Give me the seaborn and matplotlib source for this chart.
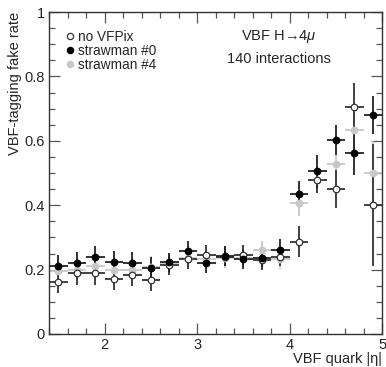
import numpy as np
import pandas as pd
import matplotlib
matplotlib.use("Agg")
import matplotlib.pyplot as plt
import seaborn as sns
from matplotlib.ticker import MultipleLocator, FixedLocator

# ---- data ----
eta = [1.5, 1.7, 1.9, 2.1, 2.3, 2.5, 2.7, 2.9, 3.1, 3.3, 3.5, 3.7, 3.9, 4.1, 4.3, 4.5, 4.7, 4.9]
eta_halfwidth = 0.1

novfpix = [0.162, 0.188, 0.188, 0.171, 0.183, 0.168, 0.214, 0.233, 0.245, 0.240, 0.245, 0.230, 0.240, 0.287, 0.478, 0.450, 0.706, 0.400]
novfpix_err = [0.035, 0.035, 0.035, 0.033, 0.033, 0.033, 0.030, 0.030, 0.030, 0.030, 0.030, 0.030, 0.030, 0.048, 0.040, 0.060, 0.075, 0.190]

straw0 = [0.212, 0.221, 0.240, 0.225, 0.221, 0.206, 0.223, 0.259, 0.219, 0.242, 0.232, 0.237, 0.261, 0.436, 0.505, 0.602, 0.561, 0.680]
straw0_err = [0.033, 0.033, 0.033, 0.033, 0.033, 0.033, 0.030, 0.030, 0.030, 0.030, 0.030, 0.030, 0.035, 0.040, 0.050, 0.047, 0.067, 0.060]

straw4 = [0.195, 0.200, 0.210, 0.200, 0.200, 0.208, 0.220, 0.236, 0.232, 0.235, 0.235, 0.260, 0.233, 0.408, 0.478, 0.528, 0.634, 0.499]
straw4_err = [0.033, 0.033, 0.033, 0.033, 0.033, 0.033, 0.030, 0.030, 0.030, 0.030, 0.030, 0.030, 0.030, 0.040, 0.040, 0.050, 0.070, 0.100]

labels = ["no VFPix", "strawman #0", "strawman #4"]

# ---- style ----
sns.set_style("ticks")
plt.rcParams["font.family"] = ["Liberation Sans", "DejaVu Sans"]
plt.rcParams["mathtext.fontset"] = "custom"
plt.rcParams["mathtext.it"] = "Liberation Sans:italic"

fig = plt.figure(figsize=(3.86, 3.67), dpi=100)
ax = fig.add_axes([0.127, 0.090, 0.863, 0.877])

series = [
    (labels[2], straw4, straw4_err, "#c8c8c8", "#c8c8c8", "#c8c8c8"),
    (labels[0], novfpix, novfpix_err, "white", "#333333", "#333333"),
    (labels[1], straw0, straw0_err, "black", "black", "#222222"),
]
order_z = {labels[2]: 2, labels[0]: 3, labels[1]: 4}

for name, vals, errs, fc, ec, lc in series:
    ax.errorbar(eta, vals, yerr=errs, xerr=eta_halfwidth, fmt="none",
                ecolor=lc, elinewidth=1.3, capsize=0, zorder=order_z[name])

for name, vals, errs, fc, ec, lc in series:
    df = pd.DataFrame({"eta": eta, "rate": vals})
    sns.scatterplot(data=df, x="eta", y="rate", ax=ax, marker="o", s=22,
                    color=fc, edgecolor=ec, linewidth=0.9, zorder=order_z[name] + 5)

ax.set_xlim(1.4, 5.0)
ax.set_ylim(0, 1.0)
ax.xaxis.set_major_locator(FixedLocator([2, 3, 4, 5]))
ax.xaxis.set_minor_locator(MultipleLocator(0.2))
ax.yaxis.set_major_locator(FixedLocator([0, 0.2, 0.4, 0.6, 0.8, 1.0]))
ax.yaxis.set_minor_locator(MultipleLocator(0.05))
ax.set_yticklabels(["0", "0.2", "0.4", "0.6", "0.8", "1"])
ax.set_xticklabels(["2", "3", "4", "5"])
ax.tick_params(which="both", direction="in", top=True, right=True,
               labelsize=10.5, color="#555555", width=0.9)
ax.tick_params(which="major", length=8, pad=3)
ax.tick_params(which="minor", length=4)
for sp in ax.spines.values():
    sp.set_visible(True)
    sp.set_color("#333333")
    sp.set_linewidth(1.0)

ax.set_xlabel("VBF quark |η|", fontsize=10.5, loc="right", labelpad=0)
ax.set_ylabel("VBF-tagging fake rate", fontsize=10.5, loc="top", labelpad=2)

# legend
handles = [
    plt.Line2D([], [], marker="o", ls="none", mfc="white", mec="#333333", ms=4.5, mew=0.9),
    plt.Line2D([], [], marker="o", ls="none", mfc="black", mec="black", ms=4.5, mew=0.9),
    plt.Line2D([], [], marker="o", ls="none", mfc="#c8c8c8", mec="#c8c8c8", ms=4.5, mew=0.9),
]
ax.legend(handles, labels, loc="upper left", bbox_to_anchor=(0.025, 0.962),
          frameon=False, fontsize=9.8, handletextpad=0.1, handlelength=1.0,
          labelspacing=0.0, borderaxespad=0.0)

ax.text(0.69, 0.925, "VBF H→4$\\mathit{\\mu}$", transform=ax.transAxes,
        ha="center", va="center", fontsize=10.5)
ax.text(0.69, 0.855, "140 interactions", transform=ax.transAxes,
        ha="center", va="center", fontsize=10.5)

fig.savefig("out.png", dpi=100)
